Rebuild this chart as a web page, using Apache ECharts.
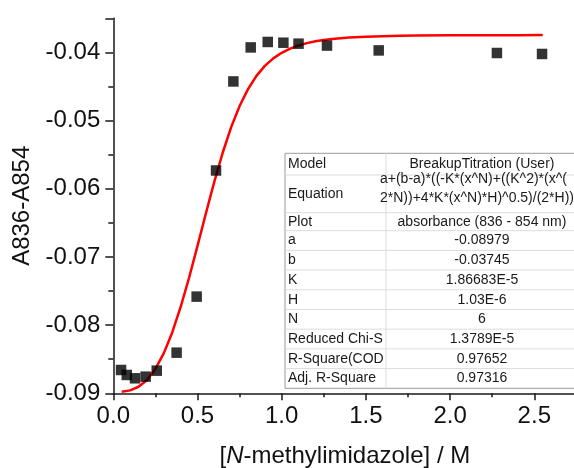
<!DOCTYPE html>
<html>
<head>
<meta charset="utf-8">
<script src="https://cdn.jsdelivr.net/npm/echarts@6/dist/echarts.min.js"></script>
<style>
  html, body { margin: 0; padding: 0; background: #ffffff; }
  #chart { width: 574px; height: 468px; }
</style>
</head>
<body>
<div id="chart"></div>
<script>
// Measured titration points: absorbance difference vs. N-methylimidazole concentration
const concM = [0.046, 0.080, 0.129, 0.192, 0.258, 0.376, 0.495, 0.610, 0.713, 0.816, 0.917, 1.010, 1.100, 1.269, 1.576, 2.278, 2.546];
const absDiff = [-0.08658, -0.08731, -0.08780, -0.08756, -0.08668, -0.08404, -0.07582, -0.05732, -0.04426, -0.03927, -0.03847, -0.03858, -0.03872, -0.03900, -0.03971, -0.04009, -0.04023];

// Fitted BreakupTitration curve
const fitX = [0.05, 0.10, 0.15, 0.20, 0.25, 0.30, 0.35, 0.40, 0.45, 0.50, 0.55, 0.60, 0.65, 0.70, 0.75, 0.80, 0.85, 0.90, 0.95, 1.00, 1.05, 1.10, 1.15, 1.20, 1.25, 1.30, 1.35, 1.40, 1.50, 1.60, 1.70, 1.80, 2.00, 2.20, 2.40, 2.55];
const fitY = [-0.08976, -0.08957, -0.08904, -0.08804, -0.08642, -0.08411, -0.08107, -0.07734, -0.07305, -0.06838, -0.06359, -0.05895, -0.05468, -0.05096, -0.04786, -0.04538, -0.04345, -0.04198, -0.04088, -0.04006, -0.03944, -0.03899, -0.03864, -0.03838, -0.03819, -0.03804, -0.03792, -0.03783, -0.03770, -0.03762, -0.03757, -0.03754, -0.03750, -0.03748, -0.03747, -0.03746];

// Fit report table rows
const tableLabels = ['Model', 'Equation', 'Plot', 'a', 'b', 'K', 'H', 'N', 'Reduced Chi-S', 'R-Square(COD', 'Adj. R-Square'];
const tableValues = ['BreakupTitration (User)', '', 'absorbance (836 - 854 nm)', '-0.08979', '-0.03745', '1.86683E-5', '1.03E-6', '6', '1.3789E-5', '0.97652', '0.97316'];
const equationLines = ['a+(b-a)*((-K*(x^N)+((K^2)*(x^(', '2*N))+4*K*(x^N)*H)^0.5)/(2*H))'];

const FONT = '"Liberation Sans", Arial, sans-serif';
const AXIS_COLOR = '#1a1a1a';

const chart = echarts.init(document.getElementById('chart'), null, { renderer: 'canvas' });

// Table layout
const tLeft = 285, tRight = 600, tDiv = 386, tValCenter = 482;
const rowEdges = [153.3, 175, 212.7, 230.7, 250.4, 270.1, 289.8, 309.5, 329.2, 348.9, 368.6, 388.3];
const TABLE_FONT = '14px ' + FONT;

const graphics = [];
graphics.push({
  type: 'rect', z: 100,
  shape: { x: tLeft, y: rowEdges[0], width: tRight - tLeft, height: rowEdges[rowEdges.length - 1] - rowEdges[0] },
  style: { fill: '#ffffff', stroke: '#9a9a9a', lineWidth: 1 }
});
for (let i = 1; i < rowEdges.length - 1; i++) {
  graphics.push({
    type: 'line', z: 101,
    shape: { x1: tLeft + 0.5, y1: rowEdges[i], x2: tRight, y2: rowEdges[i] },
    style: { stroke: '#dcdcdc', lineWidth: 1 }
  });
}
graphics.push({
  type: 'line', z: 101,
  shape: { x1: tDiv, y1: rowEdges[0], x2: tDiv, y2: rowEdges[rowEdges.length - 1] },
  style: { stroke: '#dcdcdc', lineWidth: 1 }
});
tableLabels.forEach((lab, i) => {
  const cy = (rowEdges[i] + rowEdges[i + 1]) / 2;
  graphics.push({
    type: 'text', z: 102,
    x: tLeft + 3, y: cy,
    style: { text: lab, font: TABLE_FONT, fill: '#1a1a1a', verticalAlign: 'middle', align: 'left' }
  });
  if (tableValues[i]) {
    graphics.push({
      type: 'text', z: 102,
      x: tValCenter, y: cy,
      style: { text: tableValues[i], font: TABLE_FONT, fill: '#1a1a1a', verticalAlign: 'middle', align: 'center' }
    });
  }
});
equationLines.forEach((ln, k) => {
  graphics.push({
    type: 'text', z: 102,
    x: 380, y: 179.3 + k * 18.4,
    style: { text: ln, font: TABLE_FONT, fill: '#1a1a1a', verticalAlign: 'middle', align: 'left' }
  });
});

const option = {
  backgroundColor: '#ffffff',
  animation: false,
  grid: {
    left: 113.3, right: -2.4, top: 18.3, bottom: 74.7,
    containLabel: false,
    outerBoundsMode: 'none'
  },
  xAxis: {
    type: 'value',
    min: 0, max: 2.75, interval: 0.5,
    name: '[{i|N}-methylimidazole] / M',
    nameLocation: 'middle', nameGap: 51,
    nameTextStyle: {
      fontFamily: FONT, fontSize: 24, color: '#111',
      rich: { i: { fontStyle: 'italic', fontFamily: FONT, fontSize: 24, color: '#111' } }
    },
    axisLine: { show: true, onZero: false, lineStyle: { color: AXIS_COLOR, width: 1.5 } },
    axisTick: { show: true, inside: false, length: 7, lineStyle: { color: AXIS_COLOR, width: 1.5 } },
    minorTick: { show: true, splitNumber: 2, length: 4, lineStyle: { color: AXIS_COLOR, width: 1.5 } },
    splitLine: { show: false },
    axisLabel: {
      fontFamily: FONT, fontSize: 24, color: '#111', margin: 11,
      showMaxLabel: false,
      formatter: v => v.toFixed(1)
    }
  },
  yAxis: {
    type: 'value',
    min: -0.09, max: -0.035, interval: 0.01,
    name: 'A836-A854',
    nameLocation: 'middle', nameGap: 73, nameRotate: 90,
    nameTextStyle: { fontFamily: FONT, fontSize: 24, color: '#111' },
    axisLine: { show: true, onZero: false, lineStyle: { color: AXIS_COLOR, width: 1.5 } },
    axisTick: { show: true, inside: false, length: 8, lineStyle: { color: AXIS_COLOR, width: 1.5 } },
    minorTick: { show: true, splitNumber: 2, length: 5, lineStyle: { color: AXIS_COLOR, width: 1.5 } },
    splitLine: { show: false },
    axisLabel: {
      fontFamily: FONT, fontSize: 24, color: '#111', margin: 13,
      showMaxLabel: false,
      formatter: v => v.toFixed(2)
    }
  },
  series: [
    {
      type: 'line',
      data: fitX.map((x, i) => [x, fitY[i]]),
      showSymbol: false,
      smooth: false,
      lineStyle: { color: '#ff0000', width: 2.5 },
      z: 2
    },
    {
      type: 'scatter',
      data: concM.map((x, i) => [x, absDiff[i]]),
      symbol: 'rect',
      symbolSize: 10.5,
      itemStyle: { color: '#000000' },
      z: 3
    }
  ],
  graphic: graphics
};

chart.setOption(option);
</script>
</body>
</html>
